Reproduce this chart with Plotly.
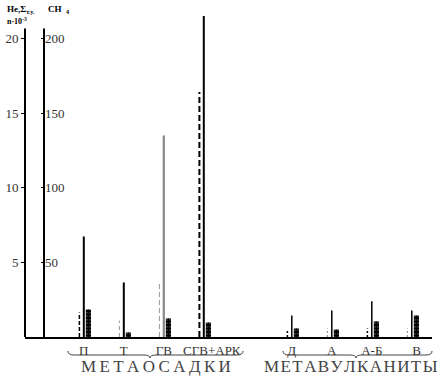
import plotly.graph_objects as go

# ---- data ----
categories = ["П", "Т", "ГВ", "СГВ+АРК", "Д", "А", "А-Б", "В"]
groups = [0, 0, 0, 0, 1, 1, 1, 1]
group_names = ["МЕТАОСАДКИ", "МЕТАВУЛКАНИТЫ"]
he_vals = [1.64, 1.1, 3.65, 16.4, 0.5, 0.57, 0.57, 0.57]          # dashed, left scale
sum_tu_vals = [67.3, 36.5, 135.0, 215.0, 14.4, 17.7, 24.0, 17.7]  # solid, right scale
ch4_vals = [1.84, 0.3, 1.24, 0.97, 0.57, 0.5, 1.04, 1.44]          # ladder, left scale
left_ticks = [5, 10, 15, 20]
right_ticks = [50, 100, 150, 200]

# ---- styles ----
he_styles = [("black", "4px,2px", 1.5), ("#999", "4px,3px", 1), ("#999", "5px,3px", 1),
             ("black", "6px,3px", 2), ("black", "2px,2px", 1.5), ("#888", "2px,2px", 1),
             ("black", "2px,2px", 1.5), ("#888", "2px,2px", 1)]
sum_styles = [("black", 2), ("black", 2), ("#888", 2.2), ("black", 2),
              ("black", 1.5), ("black", 1.5), ("black", 1.5), ("black", 1.5)]
label_shift = [0, 0, 0, 0.2, 0, 0, 0, 0.12]

W, H = 439, 377
ML, MR, MT, MB = 25, 7, 10, 40
PW, PH = W - ML - MR, H - MT - MB
YMAX = 21.9
XMIN, XMAX = -1.47, 8.705


def xp(px):
    return (px - ML) / PW


def yp(py):
    return (H - MB - py) / PH


pos = [i + 1.2 * g for i, g in enumerate(groups)]
off_he, off_ch = -0.11, 0.115

fig = go.Figure()

for p, v, (c, d, w) in zip(pos, he_vals, he_styles):
    fig.add_trace(go.Scatter(x=[p + off_he, p + off_he], y=[0, v], mode="lines",
                             line=dict(color=c, dash=d, width=w), showlegend=False,
                             hoverinfo="skip"))

for p, v, (c, w) in zip(pos, sum_tu_vals, sum_styles):
    fig.add_trace(go.Scatter(x=[p, p], y=[0, v], mode="lines", yaxis="y2",
                             line=dict(color=c, width=w), showlegend=False,
                             hoverinfo="skip"))

# CH4 ladders: bars with horizontal-line pattern plus a centre stem
fig.add_trace(go.Bar(x=[p + off_ch for p in pos], y=ch4_vals, width=0.13,
                     marker=dict(color="black", line=dict(width=0),
                                 pattern=dict(shape="-", size=3.5, solidity=0.2)),
                     showlegend=False, hoverinfo="skip"))
for p, v in zip(pos, ch4_vals):
    fig.add_trace(go.Scatter(x=[p + off_ch, p + off_ch], y=[0, v], mode="lines",
                             line=dict(color="black", width=1), showlegend=False,
                             hoverinfo="skip"))

serif = "Liberation Serif"
shapes = [
    dict(type="line", xref="paper", yref="y", x0=0, x1=0, y0=0, y1=20.66,
         line=dict(color="black", width=2)),
    dict(type="line", xref="paper", yref="y", x0=xp(44), x1=xp(44), y0=0, y1=20.66,
         line=dict(color="black", width=2)),
]


def brace(x0, x1, xc, y_top, y_mid, y_tip):
    d = 6
    pts = (f"M {xp(x0)},{yp(y_top)} Q {xp(x0)},{yp(y_mid)} {xp(x0 + d)},{yp(y_mid)} "
           f"L {xp(xc - d)},{yp(y_mid)} Q {xp(xc)},{yp(y_mid)} {xp(xc)},{yp(y_tip)} "
           f"Q {xp(xc)},{yp(y_mid)} {xp(xc + d)},{yp(y_mid)} "
           f"L {xp(x1 - d)},{yp(y_mid)} Q {xp(x1)},{yp(y_mid)} {xp(x1)},{yp(y_top)}")
    return dict(type="path", xref="paper", yref="paper", path=pts,
                line=dict(color="#444", width=1))


shapes.append(brace(68, 243, 150, 351, 355, 358))
shapes.append(brace(283, 432, 356, 351, 355, 358))

nb = "\u00a0"
annotations = [
    dict(text=f"<b>He,Σ<sub>т.у.</sub>{nb * 6}CH{nb * 2}<sub>4</sub></b>",
         xref="paper", yref="paper",
         x=xp(5), y=yp(9), xanchor="left", yanchor="middle", showarrow=False,
         font=dict(family=serif, size=9, color="black")),
    dict(text="<b>n·10<sup>-3</sup></b>", xref="paper", yref="paper",
         x=xp(5), y=yp(21), xanchor="left", yanchor="middle", showarrow=False,
         font=dict(family=serif, size=8, color="black")),
    dict(text="\u2009".join(group_names[0]), xref="paper", yref="paper",
         x=xp(156), y=yp(367), xanchor="center", yanchor="middle", showarrow=False,
         font=dict(family=serif, size=17, color="#444")),
    dict(text="\u200a".join(group_names[1]), xref="paper", yref="paper",
         x=xp(351), y=yp(367), xanchor="center", yanchor="middle", showarrow=False,
         font=dict(family=serif, size=17, color="#444")),
]

fig.update_layout(
    width=W, height=H, margin=dict(l=ML, r=MR, t=MT, b=MB, autoexpand=False),
    paper_bgcolor="white", plot_bgcolor="white",
    barmode="overlay",
    xaxis=dict(range=[XMIN, XMAX], showgrid=False, zeroline=False, automargin=False,
               showline=True, linecolor="black", linewidth=2,
               tickmode="array", tickvals=[p + s for p, s in zip(pos, label_shift)],
               ticktext=categories, ticks="",
               tickfont=dict(family=serif, size=13, color="#333")),
    yaxis=dict(range=[0, YMAX], showgrid=False, zeroline=False, showline=False,
               automargin=False,
               tickmode="array", tickvals=left_ticks, ticks="outside", ticklen=3,
               tickcolor="black", tickfont=dict(family=serif, size=13, color="#333")),
    yaxis2=dict(range=[0, YMAX * 10], overlaying="y", anchor="free", position=xp(44),
                side="right", showgrid=False, zeroline=False, showline=False,
                automargin=False,
                tickmode="array", tickvals=right_ticks, ticks="inside", ticklen=3,
                tickcolor="black", tickfont=dict(family=serif, size=13, color="#333")),
    shapes=shapes, annotations=annotations,
)

fig.write_html("out.html", config={"displayModeBar": False},
               post_script="document.body.style.margin='0';")
